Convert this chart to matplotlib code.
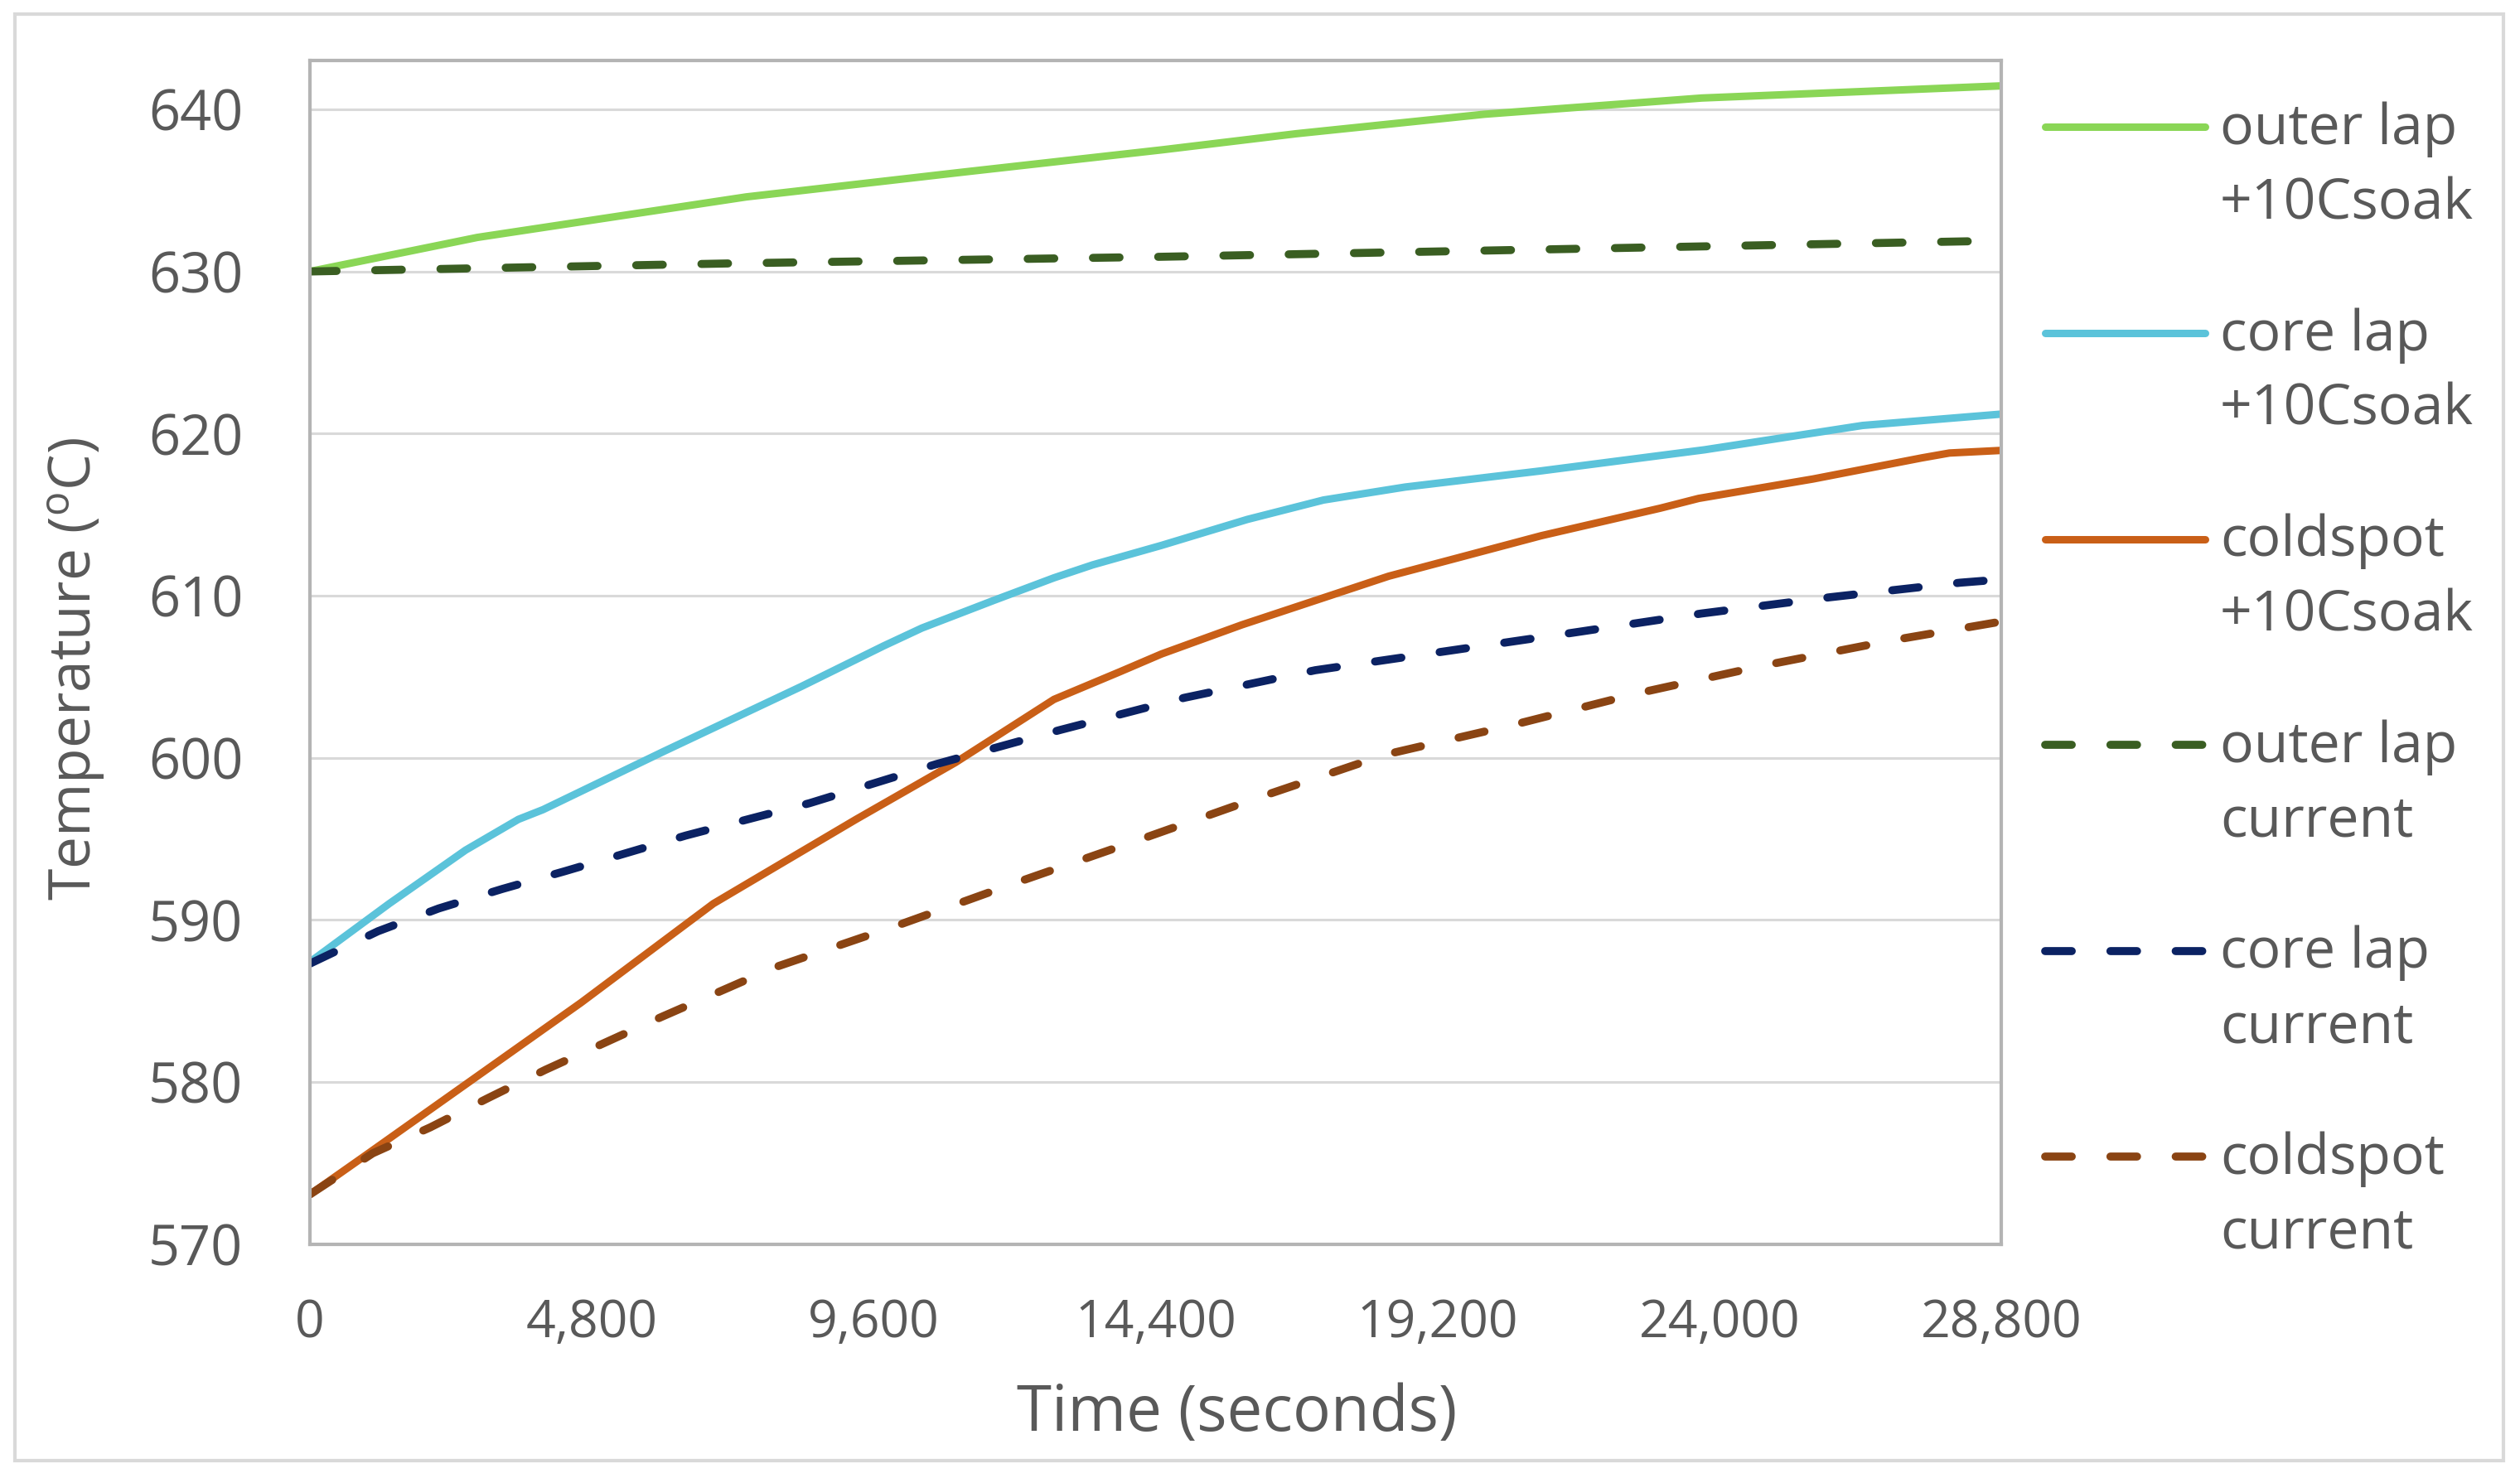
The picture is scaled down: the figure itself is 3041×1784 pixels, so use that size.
import numpy as np
import matplotlib.pyplot as plt
from matplotlib.patches import Rectangle
from matplotlib.ticker import FuncFormatter

plt.rcParams['font.family'] = ['Open Sans', 'DejaVu Sans']
plt.rcParams['mathtext.fontset'] = 'custom'
plt.rcParams['mathtext.rm'] = 'Open Sans'

# --- data (time in s, temperature in degC) ---
t_outer_soak = [0, 2850, 7430, 11170, 14500, 16800, 20000, 23700, 28800]
outer_soak = [630.0, 632.1, 634.6, 636.15, 637.5, 638.5, 639.7, 640.7, 641.45]

t_core_soak = [0, 1350, 2650, 3550, 3970, 6030, 8370, 9770, 10420, 11640, 12670,
               13330, 14500, 15960, 17260, 18650, 20970, 23750, 26440, 28800]
core_soak = [587.4, 591.0, 594.3, 596.2, 596.8, 600.4, 604.4, 606.9, 608.0, 609.7, 611.1,
             611.9, 613.1, 614.7, 615.9, 616.7, 617.7, 619.0, 620.5, 621.2]

t_cold_soak = [0, 880, 2750, 4620, 6870, 7430, 9300, 10990, 12670, 13790, 14500,
               15870, 18370, 20970, 23000, 23650, 25600, 27450, 27920, 28800]
cold_soak = [573.06, 575.3, 580.1, 584.9, 591.0, 592.2, 596.2, 599.7, 603.6, 605.3, 606.4,
             608.2, 611.2, 613.7, 615.4, 616.0, 617.2, 618.5, 618.8, 618.96]

t_outer_cur = [0, 7200, 14400, 21600, 28800]
outer_cur = [630.0, 630.5, 630.9, 631.4, 631.9]

t_core_cur = [0, 1160, 2190, 3270, 4340, 6400, 8510, 10660, 12760, 14890, 17120,
              19300, 21480, 23700, 25880, 28100, 28800]
core_cur = [587.3, 589.3, 590.7, 591.9, 593.0, 595.2, 597.2, 599.6, 601.7, 603.7, 605.4,
            606.55, 607.7, 608.9, 609.9, 610.8, 611.0]

t_cold_cur = [0, 1070, 2050, 3030, 4010, 5980, 7940, 10000, 12110, 14170, 16240,
              18320, 20460, 22640, 24770, 26950, 28800]
cold_cur = [573.06, 575.6, 577.2, 579.0, 580.75, 584.0, 587.1, 589.65, 592.4, 595.0, 597.65,
            600.2, 602.0, 604.0, 605.7, 607.25, 608.4]

x_ticks = [0, 4800, 9600, 14400, 19200, 24000, 28800]
y_ticks = [570, 580, 590, 600, 610, 620, 630, 640]

series = [
    (t_outer_soak, outer_soak, 'outer lap\n+10Csoak', '#8ad656', '-'),
    (t_core_soak, core_soak, 'core lap\n+10Csoak', '#5bc3da', '-'),
    (t_cold_soak, cold_soak, 'coldspot\n+10Csoak', '#c95f17', '-'),
    (t_outer_cur, outer_cur, 'outer lap\ncurrent', '#3a5e22', '--'),
    (t_core_cur, core_cur, 'core lap\ncurrent', '#0b2263', '--'),
    (t_cold_cur, cold_cur, 'coldspot\ncurrent', '#8a4413', '--'),
]

fig = plt.figure(figsize=(30.41, 17.84), dpi=100)
ax = fig.add_axes([0.123, 0.1583, 0.6711, 0.8006])

for tx, ty, lab, col, ls in series:
    if ls == '-':
        ax.plot(tx, ty, color=col, lw=6.5, solid_capstyle='round', label=lab)
    else:
        ax.plot(tx, ty, color=col, lw=7, ls=(0, (3.3, 4.8)),
                dash_capstyle='round', label=lab)

ax.set_xlim(0, 28800)
ax.set_ylim(570, 643)
ax.set_xticks(x_ticks)
ax.set_yticks(y_ticks)
ax.xaxis.set_major_formatter(FuncFormatter(lambda v, p: f'{int(v):,}'))
ax.tick_params(length=0, labelcolor='#595959')
ax.tick_params(axis='y', pad=58, labelsize=48)
ax.tick_params(axis='x', pad=47, labelsize=45)

ax.set_axisbelow(True)
ax.grid(axis='y', color='#d9d9d9', lw=2.2)
for sp in ax.spines.values():
    sp.set_color('#b4b4b4')
    sp.set_linewidth(3)

ax.set_xlabel('Time (seconds)', fontsize=55, color='#595959', va='baseline')
ax.xaxis.set_label_coords(0.548, -0.158)
ax.set_ylabel('Temperature ($\\mathregular{^{o}}$C)', fontsize=50, color='#595959')
ax.yaxis.label.set_va('center')
ax.yaxis.set_label_coords(-0.138, 0.4856)

leg = ax.legend(loc='upper left', bbox_to_anchor=(0.8116, 0.9312),
                bbox_transform=fig.transFigure, frameon=False, fontsize=49,
                handlelength=2.83, handletextpad=0.27, labelspacing=1.335,
                borderpad=0, borderaxespad=0, labelcolor='#595959')
for t in leg.get_texts():
    t.set_linespacing(1.44)
for ln in leg.get_lines():
    ln.set_ydata(np.asarray(ln.get_ydata()) + 36)

# outer chart border
fig.patches.append(Rectangle((0.0059, 0.0118), 0.9875, 0.9787, transform=fig.transFigure,
                             fill=False, edgecolor='#d9d9d9', lw=3))

fig.savefig('out.png', dpi=100)
